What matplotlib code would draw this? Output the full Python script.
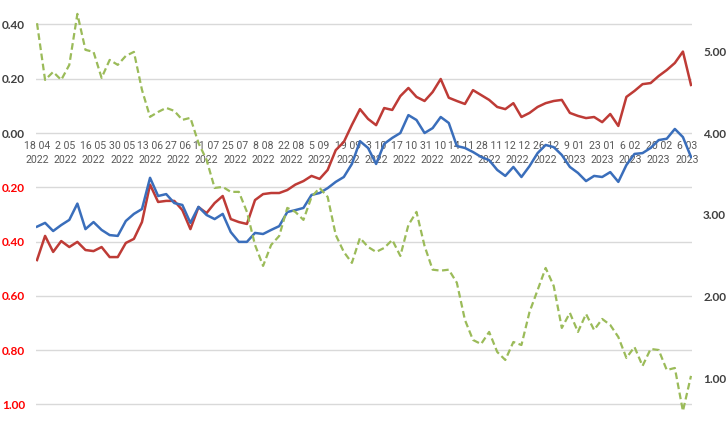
import numpy as np
import pandas as pd
import matplotlib
matplotlib.use("Agg")
import matplotlib.pyplot as plt

# values, one point every 4 days from 18 04 2022
red = [-0.468, -0.379, -0.438, -0.398, -0.42, -0.401, -0.431, -0.435, -0.42, -0.457,
       -0.457, -0.405, -0.39, -0.328, -0.19, -0.254, -0.25, -0.25, -0.284, -0.354,
       -0.273, -0.295, -0.258, -0.232, -0.317, -0.328, -0.335, -0.247, -0.225, -0.221,
       -0.221, -0.21, -0.19, -0.177, -0.158, -0.169, -0.136, -0.063, -0.033, 0.03,
       0.088, 0.052, 0.029, 0.092, 0.085, 0.136, 0.166, 0.133, 0.118, 0.151,
       0.199, 0.13, 0.118, 0.107, 0.158, 0.14, 0.122, 0.096, 0.088, 0.11,
       0.059, 0.074, 0.096, 0.11, 0.118, 0.122, 0.074, 0.063, 0.055, 0.059,
       0.04, 0.07, 0.026, 0.133, 0.155, 0.18, 0.184, 0.21, 0.232, 0.258,
       0.30, 0.177]

blue = [-0.345, -0.331, -0.361, -0.339, -0.32, -0.26, -0.354, -0.328, -0.357, -0.376,
        -0.379, -0.324, -0.298, -0.28, -0.165, -0.232, -0.225, -0.258, -0.265, -0.331,
        -0.272, -0.302, -0.317, -0.298, -0.365, -0.401, -0.401, -0.368, -0.372, -0.357,
        -0.343, -0.291, -0.284, -0.276, -0.228, -0.221, -0.203, -0.18, -0.162, -0.114,
        -0.03, -0.055, -0.114, -0.04, -0.018, 0.0, 0.066, 0.048, 0.0, 0.018,
        0.059, 0.037, -0.048, -0.055, -0.07, -0.088, -0.1, -0.136, -0.158, -0.125,
        -0.162, -0.122, -0.074, -0.044, -0.052, -0.081, -0.125, -0.147, -0.177, -0.158,
        -0.162, -0.144, -0.18, -0.118, -0.077, -0.074, -0.055, -0.026, -0.021, 0.015,
        -0.015, -0.088]

green = [5.346, 4.652, 4.75, 4.652, 4.836, 5.46, 5.02, 4.995, 4.677, 4.897,
         4.836, 4.946, 4.995, 4.53, 4.2, 4.26, 4.31, 4.273, 4.163, 4.188,
         3.88, 3.674, 3.33, 3.343, 3.282, 3.282, 3.037, 2.633, 2.376, 2.633,
         2.743, 3.086, 3.037, 2.939, 3.22, 3.33, 3.22, 2.755, 2.547, 2.413,
         2.719, 2.608, 2.547, 2.596, 2.694, 2.498, 2.877, 3.037, 2.62, 2.33,
         2.318, 2.33, 2.17, 1.715, 1.47, 1.42, 1.568, 1.323, 1.225, 1.445,
         1.408, 1.812, 2.08, 2.351, 2.13, 1.617, 1.801, 1.568, 1.788, 1.592,
         1.727, 1.653, 1.506, 1.25, 1.384, 1.152, 1.36, 1.347, 1.102, 1.127,
         0.6, 1.03]

left_ticks = [0.4, 0.2, 0.0, -0.2, -0.4, -0.6, -0.8, -1.0]
right_ticks = [1, 2, 3, 4, 5]

plt.rcParams["font.family"] = ["Lato", "DejaVu Sans"]

start = pd.Timestamp("2022-04-18")
dates = pd.date_range(start, periods=len(red), freq="4D")
tick_dates = pd.date_range(start, "2023-03-06", freq="14D")
x = np.array((dates - start).days)
xt = np.array((tick_dates - start).days)

fig = plt.figure(figsize=(7.28, 4.3), dpi=100)
ax = fig.add_axes([36 / 728, 0, 656 / 728, 1])
ax2 = ax.twinx()

# date axis sits on the 0.00 line (do this before styling the labels, it resets ticks)
ax.spines["bottom"].set_position(("data", 0))
for sp in ax.spines.values():
    sp.set_visible(False)
for sp in ax2.spines.values():
    sp.set_visible(False)

ax.plot(x, red, color="#BE3B36", lw=1.8, zorder=3)
ax.plot(x, blue, color="#3A6EBB", lw=1.8, zorder=3)
ax2.plot(x, green, color="#9BBB59", lw=1.6, linestyle=(0, (3, 1.6)))

ax.set_ylim(-1.094, 0.49)
ax2.set_ylim(0.368, 5.63)
ax.set_xlim(-0.5, 324.5)

# left axis: negatives shown without sign, in red
ax.set_yticks(left_ticks)
ax.set_yticklabels([f"{abs(v):.2f}" for v in left_ticks], fontweight="bold", fontsize=8.5)
for lab, v in zip(ax.get_yticklabels(), left_ticks):
    lab.set_color("#FF0000" if v < 0 else "#404040")
ax.tick_params(axis="y", length=0, pad=8)
ax.grid(axis="y", color="#D9D9D9", lw=1)
ax.set_axisbelow(True)

ax.set_xticks(xt)
ax.set_xticklabels([f"{d.day} {d.month:02d}\n{d.year}" for d in tick_dates],
                   linespacing=1.5, family=["Roboto", "DejaVu Sans"])
ax.tick_params(axis="x", length=0, pad=6, labelsize=7.6, labelcolor="#595959")

ax2.set_yticks(right_ticks)
ax2.set_yticklabels([f"{v:.2f}" for v in right_ticks], fontweight="bold", fontsize=8.5, color="#404040")
ax2.tick_params(axis="y", length=0, pad=8)

fig.savefig("out.png", dpi=100)
